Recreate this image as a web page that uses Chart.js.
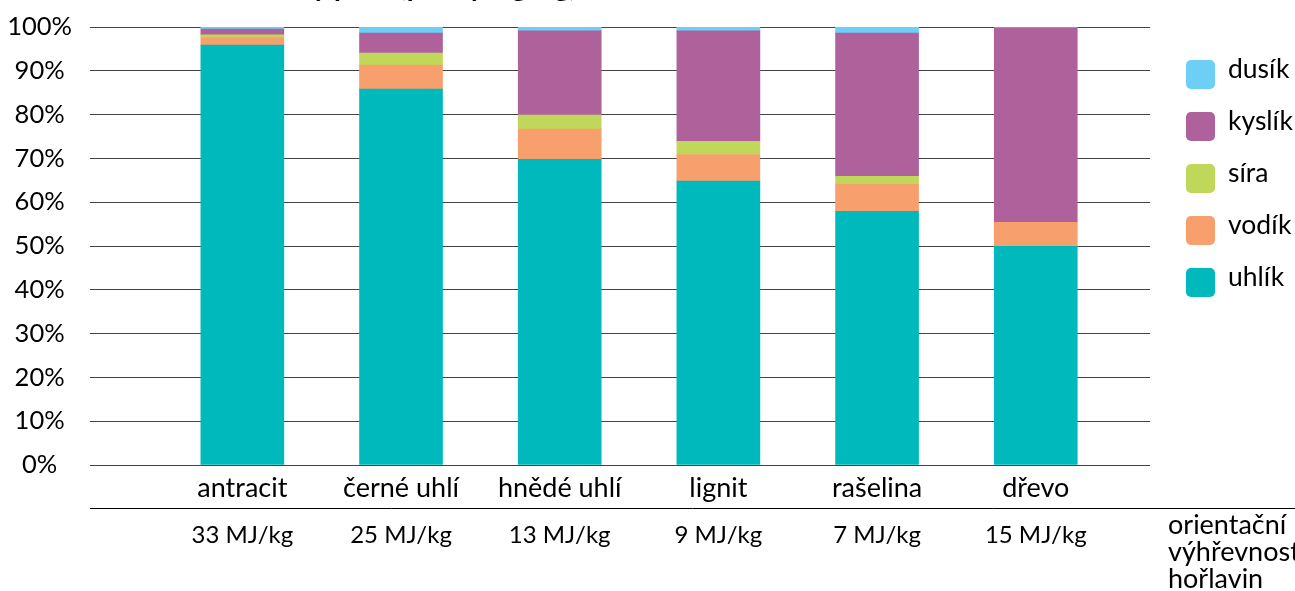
<!DOCTYPE html>
<html>
<head>
<meta charset="utf-8">
<script src="https://cdn.jsdelivr.net/npm/chart.js@4.4.1/dist/chart.umd.min.js"></script>
<style>
  body { margin: 0; background: #fff; overflow: hidden; }
  #wrap { position: relative; width: 1295px; height: 591px; overflow: hidden; }
  #title { position: absolute; left: 12px; top: -29px; font: bold 28px Lato; line-height: 28px; white-space: nowrap; color: #000; }
  #legend { position: absolute; left: 1186px; top: 48px; font: 26.5px Lato; color: #000; }
  .item { display: flex; align-items: center; height: 52px; }
  .item span { position: relative; top: -6px; }
  .box { width: 29px; height: 29px; border-radius: 5px; margin-right: 13px; }
  #note { position: absolute; left: 1168px; top: 510px; font: 27px Lato; line-height: 27px; color: #000; white-space: nowrap; }
</style>
</head>
<body>
<div id="wrap">
  <canvas id="chart" width="1295" height="591"></canvas>
  <div id="title">Prvkové složení hořlaviny paliv (podíly, kg/kg)</div>
  <div id="legend"></div>
  <div id="note">orientační<br>výhřevnost<br>hořlavin</div>
</div>
<script>
const categories = ['antracit', 'černé uhlí', 'hnědé uhlí', 'lignit', 'rašelina', 'dřevo']
const heatValues = ['33 MJ/kg', '25 MJ/kg', '13 MJ/kg', '9 MJ/kg', '7 MJ/kg', '15 MJ/kg']

// podíl v %
const uhlik = [95.9, 85.8, 69.8, 64.8, 57.9, 49.9]
const vodik = [1.6, 5.5, 6.9, 6.1, 6.2, 5.5]
const sira = [0.7, 2.75, 3.2, 3.0, 1.8, 0]
const kyslik = [1.3, 4.55, 19.2, 25.2, 32.7, 44.4]
const dusik = [0.5, 1.4, 0.9, 0.9, 1.4, 0.2]

const yTicks = [0, 10, 20, 30, 40, 50, 60, 70, 80, 90, 100]

const series = [
    { label: 'uhlík', data: uhlik, color: '#00b9bc' },
    { label: 'vodík', data: vodik, color: '#f89f6e' },
    { label: 'síra', data: sira, color: '#c0d859' },
    { label: 'kyslík', data: kyslik, color: '#ae619b' },
    { label: 'dusík', data: dusik, color: '#6dcff6' }
]

// legenda - odshora dusík ... uhlík
const legend = document.getElementById('legend')
series.slice().reverse().forEach(s => {
    const item = document.createElement('div')
    item.className = 'item'
    const box = document.createElement('div')
    box.className = 'box'
    box.style.background = s.color
    const text = document.createElement('span')
    text.textContent = s.label
    item.appendChild(box)
    item.appendChild(text)
    legend.appendChild(item)
})

// čára pod názvy paliv až k pravému okraji
const tableLine = {
    id: 'tableLine',
    afterDraw(chart) {
        const s = chart.scales.x2
        const ctx = chart.ctx
        const y = Math.round(s.top) + 0.5
        ctx.save()
        ctx.strokeStyle = '#000'
        ctx.lineWidth = 1
        ctx.beginPath()
        ctx.moveTo(s.left, y)
        ctx.lineTo(chart.width, y)
        ctx.stroke()
        ctx.restore()
    }
}

const catTicks = scale => { scale.ticks = categories.map((c, i) => ({ value: i })) }

Chart.defaults.color = '#000'
Chart.defaults.font.family = 'Lato'

new Chart(document.getElementById('chart'), {
    type: 'bar',
    data: {
        datasets: series.map(s => ({
            label: s.label,
            data: s.data.map((v, i) => ({ x: i, y: v })),
            backgroundColor: s.color,
            borderWidth: 0,
            barThickness: 83
        }))
    },
    options: {
        responsive: false,
        animation: false,
        devicePixelRatio: 1,
        layout: { padding: { top: 27, right: 145, bottom: 0, left: 0 } },
        plugins: {
            legend: { display: false },
            tooltip: { enabled: false }
        },
        scales: {
            x: {
                type: 'linear',
                offset: false,
                stacked: true,
                min: -0.96,
                max: 5.72,
                weight: 0,
                afterBuildTicks: catTicks,
                afterFit: s => { s.height = 43 },
                grid: { display: false },
                border: { display: false },
                ticks: {
                    autoSkip: false,
                    maxRotation: 0,
                    padding: -1,
                    font: { size: 27 },
                    callback: v => categories[v]
                }
            },
            x2: {
                type: 'linear',
                offset: false,
                position: 'bottom',
                min: -0.96,
                max: 5.72,
                weight: 1,
                afterBuildTicks: catTicks,
                afterFit: s => { s.height = 83 },
                grid: { display: false },
                border: { display: false },
                ticks: {
                    autoSkip: false,
                    maxRotation: 0,
                    padding: 5,
                    font: { size: 24 },
                    callback: v => heatValues[v]
                }
            },
            y: {
                stacked: true,
                min: 0,
                max: 100,
                afterBuildTicks: scale => { scale.ticks = yTicks.map(v => ({ value: v })) },
                afterFit: s => {
                    s.width = 90
                    s.paddingTop = 0
                    s.paddingBottom = 0
                },
                grid: { color: '#444', lineWidth: 1, drawTicks: false },
                border: { display: false },
                ticks: {
                    crossAlign: 'center',
                    padding: 18,
                    font: { size: 25.5 },
                    callback: v => v + '%'
                }
            }
        }
    },
    plugins: [tableLine]
})
</script>
</body>
</html>
